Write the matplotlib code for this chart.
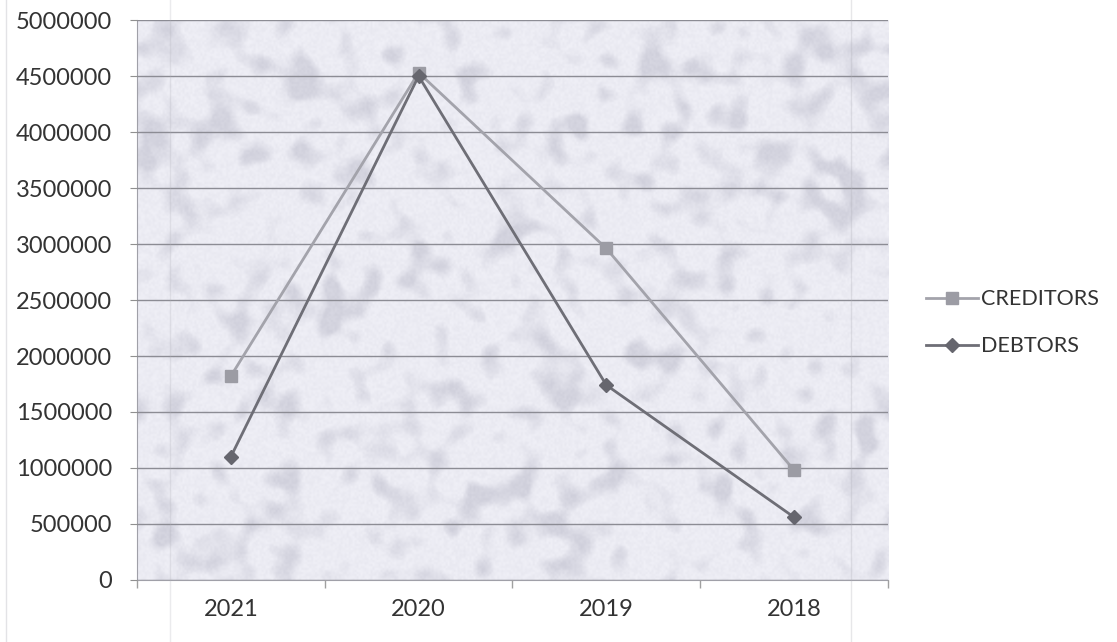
import numpy as np
import matplotlib
matplotlib.use("Agg")
import matplotlib.pyplot as plt
from matplotlib.lines import Line2D

years = ["2021", "2020", "2019", "2018"]
creditors = [1820000, 4530000, 2960000, 980000]
debtors = [1100000, 4500000, 1740000, 560000]
y_ticks = list(range(0, 5000001, 500000))

plt.rcParams['font.family'] = ['Lato', 'DejaVu Sans']

fig = plt.figure(figsize=(11.17, 6.42), dpi=100)
ax = fig.add_axes([0.1226, 0.0966, 0.6724, 0.8722])

# droplet-like texture for the plot area
rng = np.random.default_rng(7)
h, w = 280, 380
noise = rng.random((h, w))
fy = np.fft.fftfreq(h)[:, None]
fx = np.fft.fftfreq(w)[None, :]
blobs = np.real(np.fft.ifft2(np.fft.fft2(noise) * np.exp(-(fx**2 + fy**2) / (2 * 0.045**2))))
blobs = (blobs - blobs.min()) / (blobs.max() - blobs.min())
fine = rng.random((h, w))
shade = 0.45 * np.clip((blobs - 0.5) * 4, 0, 1) + 0.15 * fine
base = np.array([240, 240, 247]) / 255
dark = np.array([185, 185, 200]) / 255
tex = base[None, None, :] * (1 - shade[..., None]) + dark[None, None, :] * shade[..., None]
ax.imshow(tex, extent=[-0.5, 3.5, 0, 5000000], aspect='auto', zorder=0,
          interpolation='bilinear')

x = np.arange(len(years))
ax.plot(x, creditors, color='#a3a3ab', linewidth=2.0, marker='s', markersize=9,
        markerfacecolor='#9c9ca4', markeredgecolor='#9c9ca4', label='CREDITORS', zorder=3)
ax.plot(x, debtors, color='#6e6e76', linewidth=2.0, marker='D', markersize=7,
        markerfacecolor='#66666e', markeredgecolor='#66666e', label='DEBTORS', zorder=4)

ax.set_xlim(-0.5, 3.5)
ax.set_ylim(0, 5000000)
ax.set_yticks(y_ticks)
ax.set_yticklabels([str(v) for v in y_ticks])
ax.yaxis.grid(True, color='#8c8c94', linewidth=1.0)
ax.set_axisbelow(False)
for gl in ax.get_ygridlines():
    gl.set_zorder(1)

ax.set_xticks(x)
ax.set_xticklabels(years)
ax.set_xticks(np.arange(-0.5, 4.0, 1.0), minor=True)
ax.tick_params(axis='x', which='major', length=0, pad=14, labelsize=17, labelcolor='#333333')
ax.tick_params(axis='x', which='minor', length=6, color='#a0a0a0', width=1)
ax.tick_params(axis='y', length=5, color='#909090', pad=13, labelsize=17, labelcolor='#333333')

for side in ['top', 'right']:
    ax.spines[side].set_visible(False)
ax.spines['left'].set_color('#a0a0a8')
ax.spines['bottom'].set_color('#a0a0a8')

ax.legend(loc='center left', bbox_to_anchor=(0.812, 0.497), bbox_transform=fig.transFigure,
          frameon=False, fontsize=15.5, labelspacing=1.25, handlelength=2.4,
          handletextpad=0.15, labelcolor='#333333')

# faint page edges of the scanned sheet
for xf, a in [(0.005, 0.35), (0.152, 0.25), (0.762, 0.3)]:
    fig.add_artist(Line2D([xf, xf], [0, 1], transform=fig.transFigure,
                          color='#b0b0b8', linewidth=1.0, alpha=a))

fig.savefig("out.png", dpi=100)
